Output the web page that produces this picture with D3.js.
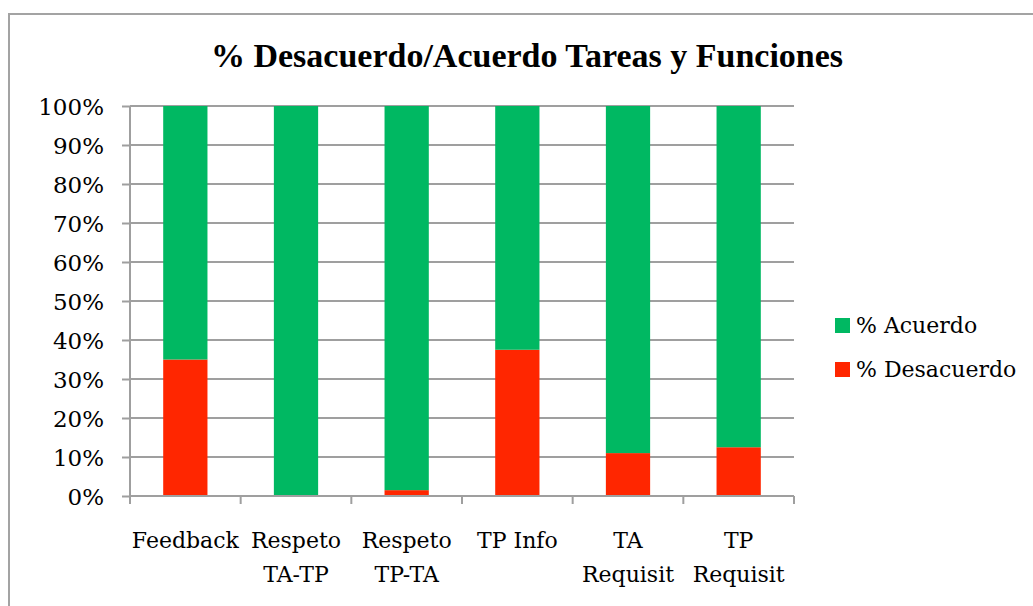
<!DOCTYPE html>
<html>
<head>
<meta charset="utf-8">
<script src="https://cdn.jsdelivr.net/npm/d3@7"></script>
<style>
  body { margin: 0; background: #fff; }
  text { fill: #000; }
</style>
</head>
<body>
<div id="chart"></div>
<script>
let categories = [['Feedback'], ['Respeto', 'TA-TP'], ['Respeto', 'TP-TA'], ['TP Info'], ['TA', 'Requisit'], ['TP', 'Requisit']];
let desacuerdo = [35, 0, 1.5, 37.5, 11, 12.5];
let acuerdo = [65, 100, 98.5, 62.5, 89, 87.5];
let seriesNames = ['% Desacuerdo', '% Acuerdo'];
let yTicks = [0, 10, 20, 30, 40, 50, 60, 70, 80, 90, 100];

let w = 1033;
let h = 606;
let margin = {top: 106, right: 239, bottom: 110, left: 130};
let colors = {'% Desacuerdo': '#ff2600', '% Acuerdo': '#00b862'};
let gridColor = '#9f9f9f';

let svg = d3.select('#chart')
  .append('svg')
  .attr('width', w)
  .attr('height', h);

// outer frame of the chart
svg.append('rect')
  .attr('x', 9)
  .attr('y', 14)
  .attr('width', w + 20)
  .attr('height', h + 20)
  .style('fill', 'none')
  .style('stroke', '#a3a3a3')
  .style('stroke-width', 2);

let keys = categories.map((c) => c.join(' '));
let table = keys.map((k, i) => ({cat: k, '% Desacuerdo': desacuerdo[i], '% Acuerdo': acuerdo[i]}));
let stacked = d3.stack().keys(seriesNames)(table);

let xScale = d3.scaleBand()
  .domain(keys)
  .range([margin.left, w - margin.right])
  .paddingInner(0.6)
  .paddingOuter(0.3);

let yScale = d3.scaleLinear()
  .domain([0, 100])
  .range([h - margin.bottom, margin.top]);

// gridlines
svg.append('g')
  .selectAll('line')
  .data(yTicks)
  .enter()
  .append('line')
  .attr('x1', margin.left)
  .attr('x2', w - margin.right)
  .attr('y1', (d) => yScale(d))
  .attr('y2', (d) => yScale(d))
  .style('stroke', gridColor)
  .style('stroke-width', 2);

// bars
svg.append('g')
  .selectAll('g')
  .data(stacked)
  .enter()
  .append('g')
  .style('fill', (s) => colors[s.key])
  .selectAll('rect')
  .data((s) => s)
  .enter()
  .append('rect')
  .attr('x', (d) => xScale(d.data.cat))
  .attr('width', xScale.bandwidth())
  .attr('y', (d) => yScale(d[1]))
  .attr('height', (d) => yScale(d[0]) - yScale(d[1]));

// y axis
let yAxis = d3.axisLeft(yScale)
  .tickValues(yTicks)
  .tickSize(8)
  .tickPadding(18)
  .tickFormat((d) => d + '%');

let yG = svg.append('g')
  .attr('transform', 'translate(' + margin.left + ',0)')
  .call(yAxis);
yG.selectAll('path, line').style('stroke', gridColor).style('stroke-width', 2);
yG.select('.domain').attr('d', 'M0,' + (h - margin.bottom) + 'V' + margin.top);
yG.selectAll('text')
  .style('font-family', '"DejaVu Serif", serif')
  .style('font-size', '23px')
  .attr('dy', '0.36em');

// x axis: ticks on category boundaries
let step = xScale.step();
let bounds = keys.map((k) => xScale(k) - (step - xScale.bandwidth()) / 2);
bounds.push(bounds[bounds.length - 1] + step);

let xBase = h - margin.bottom;
svg.append('line')
  .attr('x1', margin.left)
  .attr('x2', w - margin.right)
  .attr('y1', xBase)
  .attr('y2', xBase)
  .style('stroke', gridColor)
  .style('stroke-width', 2);
svg.append('g')
  .selectAll('line')
  .data(bounds)
  .enter()
  .append('line')
  .attr('x1', (d) => d)
  .attr('x2', (d) => d)
  .attr('y1', xBase)
  .attr('y2', xBase + 8)
  .style('stroke', gridColor)
  .style('stroke-width', 2);

let xLabels = svg.append('g')
  .selectAll('text')
  .data(categories)
  .enter()
  .append('text')
  .attr('text-anchor', 'middle')
  .attr('transform', (d, i) => 'translate(' + (xScale(keys[i]) + xScale.bandwidth() / 2) + ',' + (xBase + 52) + ')')
  .style('font-family', '"DejaVu Serif", serif')
  .style('font-size', '22px');
xLabels.selectAll('tspan')
  .data((d) => d)
  .enter()
  .append('tspan')
  .attr('x', 0)
  .attr('dy', (d, i) => i === 0 ? 0 : 34)
  .text((d) => d);

// title
svg.append('text')
  .text('% Desacuerdo/Acuerdo Tareas y Funciones')
  .attr('text-anchor', 'middle')
  .attr('transform', 'translate(' + 527 + ',' + 67 + ')')
  .style('font-family', '"Liberation Serif", serif')
  .style('font-weight', 'bold')
  .style('font-size', '34px');

// legend
let legendOrder = ['% Acuerdo', '% Desacuerdo'];
let legend = svg.append('g')
  .selectAll('g')
  .data(legendOrder)
  .enter()
  .append('g')
  .attr('transform', (d, i) => 'translate(835,' + (318 + i * 44) + ')');
legend.append('rect')
  .attr('width', 15)
  .attr('height', 15)
  .style('fill', (d) => colors[d]);
legend.append('text')
  .text((d) => d)
  .attr('x', 21)
  .attr('y', 15)
  .style('font-family', '"DejaVu Serif", serif')
  .style('font-size', '22px');
</script>
</body>
</html>
